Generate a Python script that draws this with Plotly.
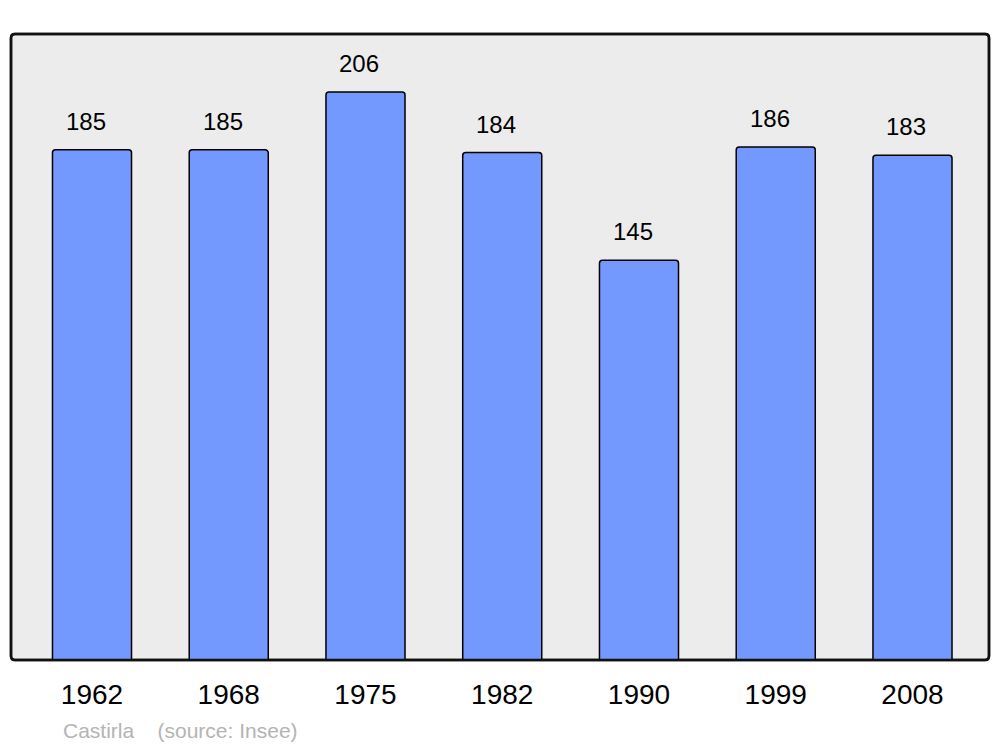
import plotly.graph_objects as go

years = ["1962", "1968", "1975", "1982", "1990", "1999", "2008"]
population = [185, 185, 206, 184, 145, 186, 183]
footer_text = "Castirla    (source: Insee)"

W, H = 1000, 747
ml, mr, mt, mb = 11, 11, 34, 87
pw, ph = W - ml - mr, H - mt - mb

fig = go.Figure()
fig.add_trace(go.Bar(
    x=years, y=population, width=0.578,
    marker=dict(color="#7399ff", line=dict(color="black", width=1.5), cornerradius=3),
    hoverinfo="skip",
))

for i, v in enumerate(population):
    fig.add_annotation(x=i, y=v, text=str(v), showarrow=False, xref="x", yref="y",
                       yanchor="bottom", yshift=13, xshift=-6,
                       font=dict(family="Liberation Sans, Arial", size=24, color="black"))

fig.add_annotation(x=(61 - ml) / pw, y=(H - mb - 730) / ph, xref="paper", yref="paper",
                   text=footer_text, showarrow=False, xanchor="left", yanchor="middle",
                   font=dict(family="Liberation Sans, Arial", size=21, color="#b4b4b4"))

# rounded frame around plot area
rx, ry = 4 / pw, 4 / ph
path = (f"M {rx},0 L {1-rx},0 Q 1,0 1,{ry} L 1,{1-ry} Q 1,1 {1-rx},1 "
        f"L {rx},1 Q 0,1 0,{1-ry} L 0,{ry} Q 0,0 {rx},0 Z")
fig.add_shape(type="path", path=path, xref="x domain", yref="y domain",
              line=dict(color="#111111", width=2.5), fillcolor="#ececec", layer="below")
fig.add_shape(type="path", path=path, xref="x domain", yref="y domain",
              line=dict(color="#111111", width=2.5), fillcolor="rgba(0,0,0,0)", layer="above")

fig.update_layout(
    width=W, height=H,
    margin=dict(l=ml, r=mr, t=mt, b=mb),
    paper_bgcolor="white", plot_bgcolor="white",
    showlegend=False,
    xaxis=dict(type="category", range=[-0.5923, 6.5595], showgrid=False, zeroline=False,
               showline=False, ticks="outside", ticklen=9, tickcolor="rgba(0,0,0,0)",
               tickfont=dict(family="Liberation Sans, Arial", size=28, color="black")),
    yaxis=dict(range=[0, 227.0], showgrid=False, zeroline=False, showline=False,
               showticklabels=False, ticks=""),
)

fig.write_html("out.html", config={"displayModeBar": False},
               post_script="document.body.style.margin='0px';")
